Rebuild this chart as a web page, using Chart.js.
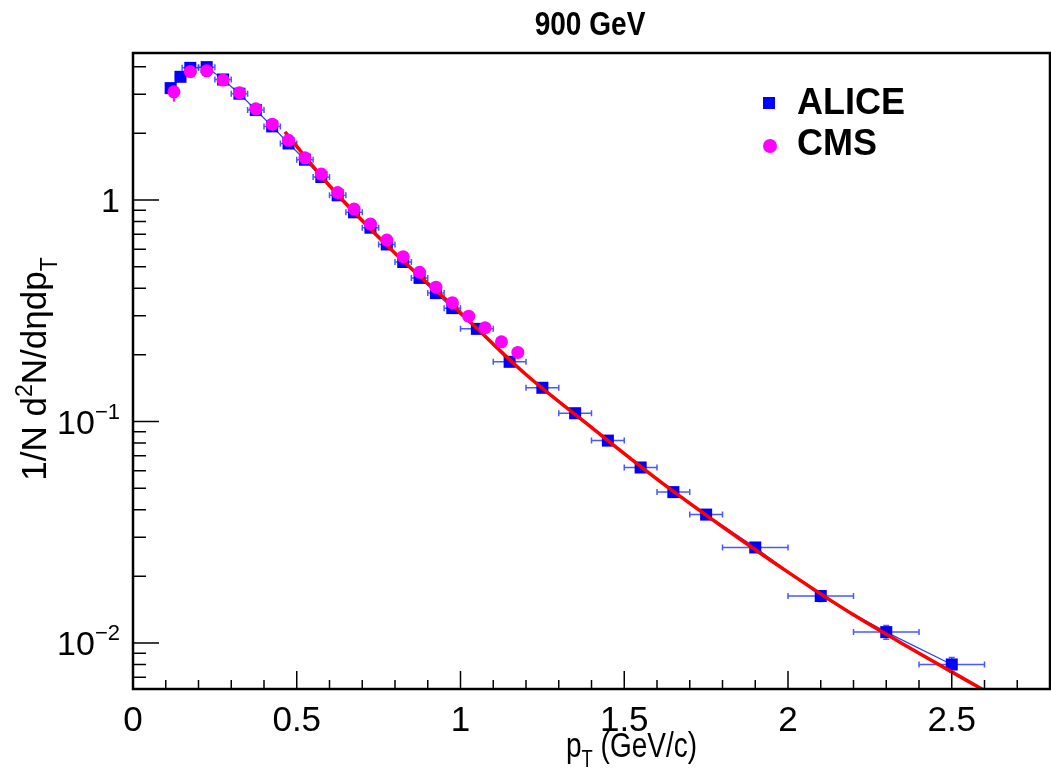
<!DOCTYPE html>
<html>
<head>
<meta charset="utf-8">
<script src="https://cdn.jsdelivr.net/npm/chart.js@4.4.1/dist/chart.umd.min.js"></script>
<style>
  html, body { margin: 0; padding: 0; background: #fff; overflow: hidden; }
  #wrap { width: 1051px; height: 773px; }
  canvas { display: block; }
</style>
</head>
<body>
<div id="wrap"><canvas id="spectrum" width="1051" height="773"></canvas></div>
<script>
// ALICE points (pT in GeV/c, yield), x errors = half bin width
const ptAlice = [0.115, 0.145, 0.175, 0.225, 0.275, 0.325, 0.375, 0.425, 0.475, 0.525, 0.575, 0.625, 0.675, 0.725, 0.775, 0.825, 0.875, 0.925, 0.975, 1.05, 1.15, 1.25, 1.35, 1.45, 1.55, 1.65, 1.75, 1.9, 2.1, 2.3, 2.5];
const yieldAlice = [3.2, 3.6, 3.95, 3.98, 3.5, 3.02, 2.55, 2.15, 1.8, 1.52, 1.27, 1.05, 0.88, 0.75, 0.63, 0.525, 0.445, 0.38, 0.325, 0.262, 0.186, 0.142, 0.109, 0.082, 0.062, 0.048, 0.038, 0.027, 0.0163, 0.0112, 0.0080];
const ptErrAlice = [0.015, 0.015, 0.025, 0.025, 0.025, 0.025, 0.025, 0.025, 0.025, 0.025, 0.025, 0.025, 0.025, 0.025, 0.025, 0.025, 0.025, 0.025, 0.025, 0.05, 0.05, 0.05, 0.05, 0.05, 0.05, 0.05, 0.05, 0.1, 0.1, 0.1, 0.1];
const yErrAlice = [0.1, 0.1, 0.1, 0.1, 0.08, 0.07, 0.06, 0.05, 0.04, 0.035, 0.03, 0.025, 0.02, 0.018, 0.015, 0.012, 0.01, 0.009, 0.008, 0.007, 0.005, 0.004, 0.003, 0.0025, 0.002, 0.0018, 0.0016, 0.0013, 0.0009, 0.0008, 0.0006];

// CMS points
const ptCms = [0.125, 0.175, 0.225, 0.275, 0.325, 0.375, 0.425, 0.475, 0.525, 0.575, 0.625, 0.675, 0.725, 0.775, 0.825, 0.875, 0.925, 0.975, 1.025, 1.075, 1.125, 1.175];
const yieldCms = [3.08, 3.80, 3.83, 3.48, 3.05, 2.58, 2.20, 1.86, 1.55, 1.31, 1.08, 0.91, 0.78, 0.66, 0.555, 0.472, 0.404, 0.344, 0.299, 0.265, 0.229, 0.205];
const yErrCms = [0.3, 0.08, 0.08, 0.07, 0.06, 0.05, 0.04, 0.035, 0.03, 0.025, 0.02, 0.018, 0.015, 0.013, 0.011, 0.01, 0.009, 0.008, 0.007, 0.006, 0.006, 0.005];

// fit curve (red)
const ptFit = [0.464, 0.6, 0.8, 1.0, 1.2, 1.4, 1.6, 1.8, 2.0, 2.2, 2.4, 2.6];
const yieldFit = [2.03, 1.16, 0.575, 0.31, 0.163, 0.094, 0.055, 0.0335, 0.0209, 0.0134, 0.0090, 0.0061];

// axis labels
const xTickVals = [0, 0.5, 1, 1.5, 2, 2.5];
const xTickText = ['0', '0.5', '1', '1.5', '2', '2.5'];
const yTickVals = [1, 0.1, 0.01];
const yTickBase = ['1', '10', '10'];
const yTickExp = ['', '\u22121', '\u22122'];

const FONT = '"Liberation Sans", Arial, Helvetica, sans-serif';

function toPoints(xs, ys) {
  return xs.map((x, i) => ({ x: x, y: ys[i] }));
}

// draw a run of text pieces (size, vertical shift) starting at x
function drawPieces(ctx, pieces, x, y) {
  pieces.forEach(p => {
    ctx.font = (p.bold ? 'bold ' : '') + p.size + 'px ' + FONT;
    ctx.fillText(p.t, x, y + (p.dy || 0));
    x += ctx.measureText(p.t).width;
  });
  return x;
}
function piecesWidth(ctx, pieces) {
  let w = 0;
  pieces.forEach(p => {
    ctx.font = (p.bold ? 'bold ' : '') + p.size + 'px ' + FONT;
    w += ctx.measureText(p.t).width;
  });
  return w;
}

const rootStyle = {
  id: 'rootStyle',
  beforeDatasetsDraw(chart) {
    const ctx = chart.ctx, xs = chart.scales.x, ys = chart.scales.y;
    const a = chart.chartArea;
    ctx.save();
    ctx.beginPath();
    ctx.rect(a.left, a.top, a.right - a.left, a.bottom - a.top);
    ctx.clip();
    // ALICE error bars
    ctx.strokeStyle = 'rgba(40,60,255,0.85)';
    ctx.lineWidth = 1.5;
    ptAlice.forEach((x, i) => {
      const px = xs.getPixelForValue(x);
      const py = ys.getPixelForValue(yieldAlice[i]);
      const x0 = xs.getPixelForValue(x - ptErrAlice[i]);
      const x1 = xs.getPixelForValue(x + ptErrAlice[i]);
      const y0 = ys.getPixelForValue(yieldAlice[i] + yErrAlice[i]);
      const y1 = ys.getPixelForValue(yieldAlice[i] - yErrAlice[i]);
      ctx.beginPath();
      ctx.moveTo(x0, py); ctx.lineTo(x1, py);
      ctx.moveTo(x0, py - 3); ctx.lineTo(x0, py + 3);
      ctx.moveTo(x1, py - 3); ctx.lineTo(x1, py + 3);
      ctx.moveTo(px, y0); ctx.lineTo(px, y1);
      ctx.moveTo(px - 3, y0); ctx.lineTo(px + 3, y0);
      ctx.moveTo(px - 3, y1); ctx.lineTo(px + 3, y1);
      ctx.stroke();
    });
    // CMS error bars
    ctx.strokeStyle = '#ff00ff';
    ctx.lineWidth = 2;
    ptCms.forEach((x, i) => {
      const px = xs.getPixelForValue(x);
      ctx.beginPath();
      ctx.moveTo(px, ys.getPixelForValue(yieldCms[i] + yErrCms[i]));
      ctx.lineTo(px, ys.getPixelForValue(yieldCms[i] - yErrCms[i]));
      ctx.stroke();
    });
    ctx.restore();
  },
  afterDraw(chart) {
    const ctx = chart.ctx, xs = chart.scales.x, ys = chart.scales.y;
    const a = chart.chartArea;
    ctx.save();
    ctx.fillStyle = '#000';
    ctx.strokeStyle = '#000';

    // frame
    ctx.lineWidth = 2.5;
    ctx.strokeRect(a.left, a.top, a.right - a.left, a.bottom - a.top);

    // x ticks (inward)
    ctx.lineWidth = 1.5;
    ctx.beginPath();
    for (let k = 0; k <= 28; k++) {
      const px = xs.getPixelForValue(k / 10);
      const len = (k % 5 === 0) ? 18 : 9;
      ctx.moveTo(px, a.bottom);
      ctx.lineTo(px, a.bottom - len);
    }
    // y ticks (inward, log)
    for (let e = -3; e <= 0; e++) {
      for (let m = 1; m <= 9; m++) {
        const v = m * Math.pow(10, e);
        if (v < ys.min || v > ys.max) continue;
        const py = ys.getPixelForValue(v);
        const len = (m === 1) ? 26 : 13;
        ctx.moveTo(a.left, py);
        ctx.lineTo(a.left + len, py);
      }
    }
    ctx.stroke();

    // x tick labels
    ctx.font = '35px ' + FONT;
    ctx.textAlign = 'center';
    ctx.textBaseline = 'alphabetic';
    xTickVals.forEach((v, i) => {
      ctx.fillText(xTickText[i], xs.getPixelForValue(v), 731);
    });

    // y tick labels
    ctx.textAlign = 'left';
    yTickVals.forEach((v, i) => {
      const py = ys.getPixelForValue(v) + 12;
      const pieces = [{ t: yTickBase[i], size: 34 }];
      if (yTickExp[i]) pieces.push({ t: yTickExp[i], size: 22, dy: -15 });
      const w = piecesWidth(ctx, pieces);
      drawPieces(ctx, pieces, 120 - w, py);
    });

    // x axis title (narrow letters, like the original)
    ctx.save();
    ctx.translate(566, 757);
    ctx.scale(0.8, 1);
    drawPieces(ctx, [
      { t: 'p', size: 35 },
      { t: 'T', size: 23, dy: 10 },
      { t: ' (GeV/c)', size: 35 }
    ], 0, 0);
    ctx.restore();

    // y axis title (rotated)
    const yTitle = [
      { t: '1/N d', size: 35 },
      { t: '2', size: 23, dy: -14 },
      { t: 'N/d\u03b7dp', size: 35 },
      { t: 'T', size: 23, dy: 11 }
    ];
    ctx.save();
    ctx.translate(46, 369);
    ctx.rotate(-Math.PI / 2);
    const tw = piecesWidth(ctx, yTitle);
    drawPieces(ctx, yTitle, -tw / 2, 0);
    ctx.restore();

    // title
    ctx.save();
    ctx.translate(590, 35);
    ctx.scale(0.85, 1);
    ctx.font = 'bold 33px ' + FONT;
    ctx.textAlign = 'center';
    ctx.fillText('900 GeV', 0, 0);
    ctx.restore();

    // legend
    ctx.textAlign = 'left';
    ctx.textBaseline = 'middle';
    ctx.fillStyle = '#0000ff';
    ctx.fillRect(763, 97, 12, 12);
    ctx.fillStyle = '#ff00ff';
    ctx.beginPath();
    ctx.arc(770, 146, 7, 0, Math.PI * 2);
    ctx.fill();
    ctx.fillStyle = '#000';
    ctx.font = 'bold 36px ' + FONT;
    ctx.fillText('ALICE', 797, 104);
    ctx.fillText('CMS', 797, 145);
    ctx.restore();
  }
};

new Chart(document.getElementById('spectrum'), {
  type: 'scatter',
  data: {
    datasets: [
      {
        label: 'CMS',
        data: toPoints(ptCms, yieldCms),
        pointStyle: 'circle',
        pointRadius: 6.5,
        pointHoverRadius: 6.5,
        backgroundColor: '#ff00ff',
        borderColor: '#ff00ff',
        borderWidth: 0,
        showLine: false,
        order: 0
      },
      {
        label: 'fit',
        data: toPoints(ptFit, yieldFit),
        showLine: true,
        borderColor: '#ff0000',
        borderWidth: 3.5,
        pointRadius: 0,
        cubicInterpolationMode: 'monotone',
        fill: false,
        order: 1
      },
      {
        label: 'ALICE',
        data: toPoints(ptAlice, yieldAlice),
        showLine: true,
        borderColor: '#2a3cff',
        borderWidth: 1.2,
        pointStyle: 'rect',
        pointRadius: 8.5,
        pointHoverRadius: 8.5,
        pointBackgroundColor: '#0000ff',
        pointBorderColor: '#0000ff',
        pointBorderWidth: 0,
        order: 2
      }
    ]
  },
  options: {
    responsive: false,
    animation: false,
    devicePixelRatio: 1,
    layout: { autoPadding: false, padding: { left: 133, top: 53, right: 1, bottom: 84 } },
    plugins: {
      legend: { display: false },
      title: { display: false },
      tooltip: { enabled: false }
    },
    scales: {
      x: { type: 'linear', min: 0, max: 2.8, display: false },
      y: { type: 'logarithmic', min: 0.0062, max: 4.61, display: false }
    }
  },
  plugins: [rootStyle]
});
</script>
</body>
</html>
